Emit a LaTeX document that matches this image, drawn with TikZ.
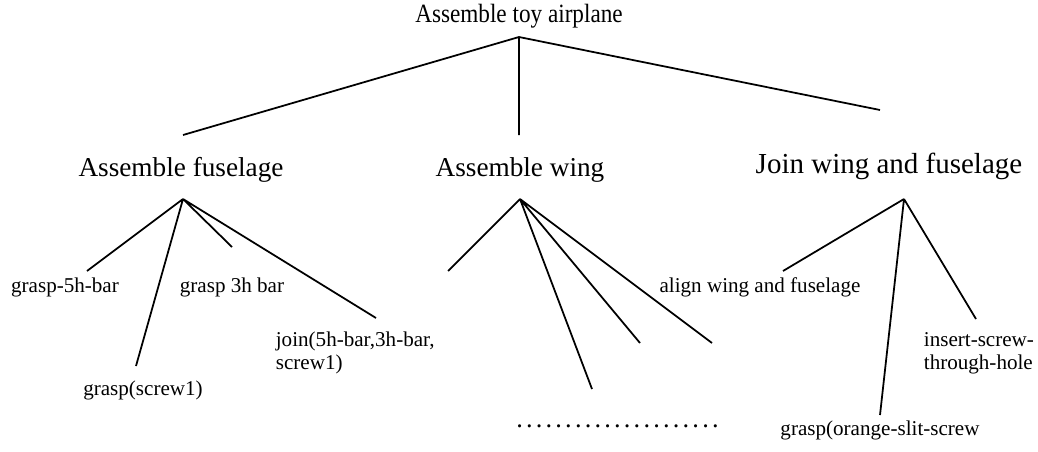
\documentclass[tikz,border=0pt]{standalone}
\usepackage{fontspec}
\setmainfont{Liberation Serif}

\begin{document}
\begin{tikzpicture}[line width=1pt,
    step0/.style={font=\fontsize{15}{18}\selectfont,inner sep=0pt,xscale=.88},
    step1/.style={font=\fontsize{15.5}{18}\selectfont,inner sep=0pt},
    step2/.style={font=\fontsize{12}{13}\selectfont,inner sep=0pt}]
      \useasboundingbox (0,0) rectangle (20.76,9.02);

      % top level
      \node (root) at (10.38,8.70) [step0] {Assemble toy airplane};
      \coordinate (r0) at (10.38,8.28);
      \coordinate (r1) at (3.66,6.32);
      \coordinate (r2) at (10.38,6.32);
      \coordinate (r3) at (17.60,6.82);
      \draw (r0) -- (r1) (r0) -- (r2) (r0) -- (r3);

      \node (fus) at (3.62,5.62) [step1] {Assemble fuselage};
      \node (wing) at (10.40,5.62) [step1] {Assemble wing};
      \node (join) at (17.78,5.70) [step1,font=\fontsize{16.5}{19}\selectfont] {Join wing and fuselage};

      % assemble fuselage
      \coordinate (f0) at (3.66,5.04);
      \coordinate (f1) at (1.74,3.60);
      \coordinate (f2) at (2.72,1.70);
      \coordinate (f3) at (4.64,4.08);
      \coordinate (f4) at (7.52,2.66);
      \draw (f0) -- (f1) (f0) -- (f2) (f0) -- (f3) (f0) -- (f4);
      \node (g5h) at (1.30,3.28) [step2] {grasp-5h-bar};
      \node (gscr) at (2.86,1.22) [step2] {grasp(screw1)};
      \node (g3h) at (4.64,3.28) [step2] {grasp 3h bar};
      \node (jbar) at (5.50,1.96) [step2,anchor=west,align=left] {join(5h-bar,3h-bar,\\screw1)};

      % assemble wing
      \coordinate (w0) at (10.40,5.04);
      \coordinate (w1) at (8.96,3.60);
      \coordinate (w2) at (11.84,1.24);
      \coordinate (w3) at (12.80,2.16);
      \coordinate (w4) at (14.24,2.16);
      \draw (w0) -- (w1) (w0) -- (w2) (w0) -- (w3) (w0) -- (w4);
      \node (dots) at (12.35,0.50) [step2,font=\fontsize{15}{15}\selectfont]
        {\makebox[117pt]{\leaders\hbox to 5.57pt{\hss.\hss}\hfill}};

      % join wing and fuselage
      \coordinate (j0) at (18.08,5.04);
      \coordinate (j1) at (15.66,3.60);
      \coordinate (j2) at (17.60,0.72);
      \coordinate (j3) at (19.52,2.64);
      \draw (j0) -- (j1) (j0) -- (j2) (j0) -- (j3);
      \node (align) at (15.20,3.28) [step2] {align wing and fuselage};
      \node (gors) at (17.60,0.42) [step2] {grasp(orange-slit-screw};
      \node (insr) at (18.46,1.96) [step2,anchor=west,align=left] {insert-screw-\\through-hole};

    \end{tikzpicture}
\end{document}
